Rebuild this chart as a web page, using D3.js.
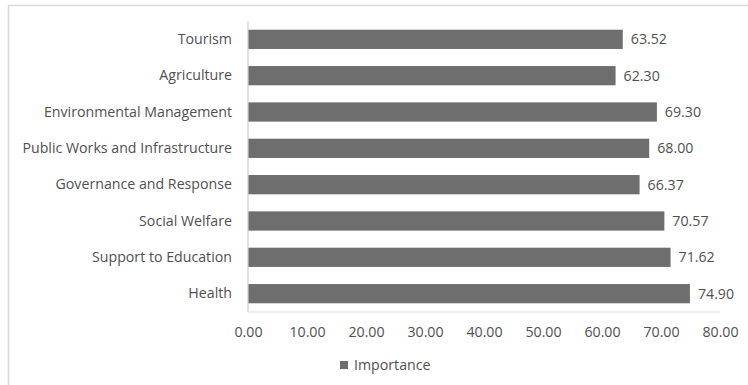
<!DOCTYPE html>
<html>
<head>
<meta charset="utf-8">
<script src="https://cdn.jsdelivr.net/npm/d3@7"></script>
<style>
  html, body { margin: 0; padding: 0; background: #fff; }
  svg { display: block; }
  text { font-family: "Open Sans", Lato, sans-serif; fill: #505050; }
</style>
</head>
<body>
<svg id="chart" width="748" height="385"></svg>
<script>
// Importance score per service area
const categories = [
  "Tourism",
  "Agriculture",
  "Environmental Management",
  "Public Works and Infrastructure",
  "Governance and Response",
  "Social Welfare",
  "Support to Education",
  "Health"
];
const importance = [63.52, 62.30, 69.30, 68.00, 66.37, 70.57, 71.62, 74.90];
const tickValues = [0, 10, 20, 30, 40, 50, 60, 70, 80];
const seriesName = "Importance";

const FONT = "'Open Sans', Lato, sans-serif";
const FS = 14.2;
const TXT = "#505050";

const svg = d3.select("#chart");
const W = 748, H = 385;
const margin = { left: 248, right: 28, top: 21, bottom: 73 };

// chart frame
svg.append("rect")
  .attr("x", 8.5).attr("y", 5.5)
  .attr("width", W + 10).attr("height", H + 10)
  .attr("fill", "none").attr("stroke", "#d9d9d9").attr("stroke-width", 1.5);

const x = d3.scaleLinear().domain([0, 80]).range([margin.left, W - margin.right]);
const y = d3.scaleBand().domain(categories)
  .range([margin.top, H - margin.bottom]).paddingInner(0.47).paddingOuter(0.24);

const data = categories.map((c, i) => ({ cat: c, v: importance[i] }));

// bars
svg.append("g").selectAll("rect").data(data).join("rect")
  .attr("x", x(0))
  .attr("y", d => y(d.cat))
  .attr("width", d => x(d.v) - x(0))
  .attr("height", y.bandwidth())
  .attr("fill", "#6e6e6e");

// value labels
svg.append("g").selectAll("text").data(data).join("text")
  .attr("x", d => x(d.v) + 8)
  .attr("y", d => y(d.cat) + y.bandwidth() / 2)
  .attr("dy", "0.36em")
  .attr("font-size", FS)
  .text(d => d3.format(".2f")(d.v));

// axis lines
const plotBottom = H - margin.bottom;
svg.append("line")
  .attr("x1", x(0)).attr("x2", x(0))
  .attr("y1", margin.top).attr("y2", plotBottom)
  .attr("stroke", "#d0d0d0").attr("stroke-width", 1.2);
svg.append("line")
  .attr("x1", x(0)).attr("x2", x(80))
  .attr("y1", plotBottom).attr("y2", plotBottom)
  .attr("stroke", "#e0e0e0").attr("stroke-width", 1.2);

// category axis
const yAxis = d3.axisLeft(y).tickSize(0).tickPadding(16);
const gy = svg.append("g").attr("transform", `translate(${x(0)},0)`).call(yAxis);
gy.select(".domain").remove();
gy.selectAll("text").attr("font-size", FS).style("font-family", FONT).attr("fill", TXT);

// value axis
const xAxis = d3.axisBottom(x).tickValues(tickValues).tickSize(0).tickPadding(15)
  .tickFormat(d3.format(".2f"));
const gx = svg.append("g").attr("transform", `translate(0,${plotBottom})`).call(xAxis);
gx.select(".domain").remove();
gx.selectAll("text").attr("font-size", FS).style("font-family", FONT).attr("fill", TXT);

// legend
const lg = svg.append("g").attr("transform", "translate(340,365)");
lg.append("rect").attr("x", 0).attr("y", -4).attr("width", 8).attr("height", 8).attr("fill", "#6e6e6e");
lg.append("text").attr("x", 14).attr("y", 0).attr("dy", "0.36em").attr("font-size", FS).text(seriesName);
</script>
</body>
</html>
